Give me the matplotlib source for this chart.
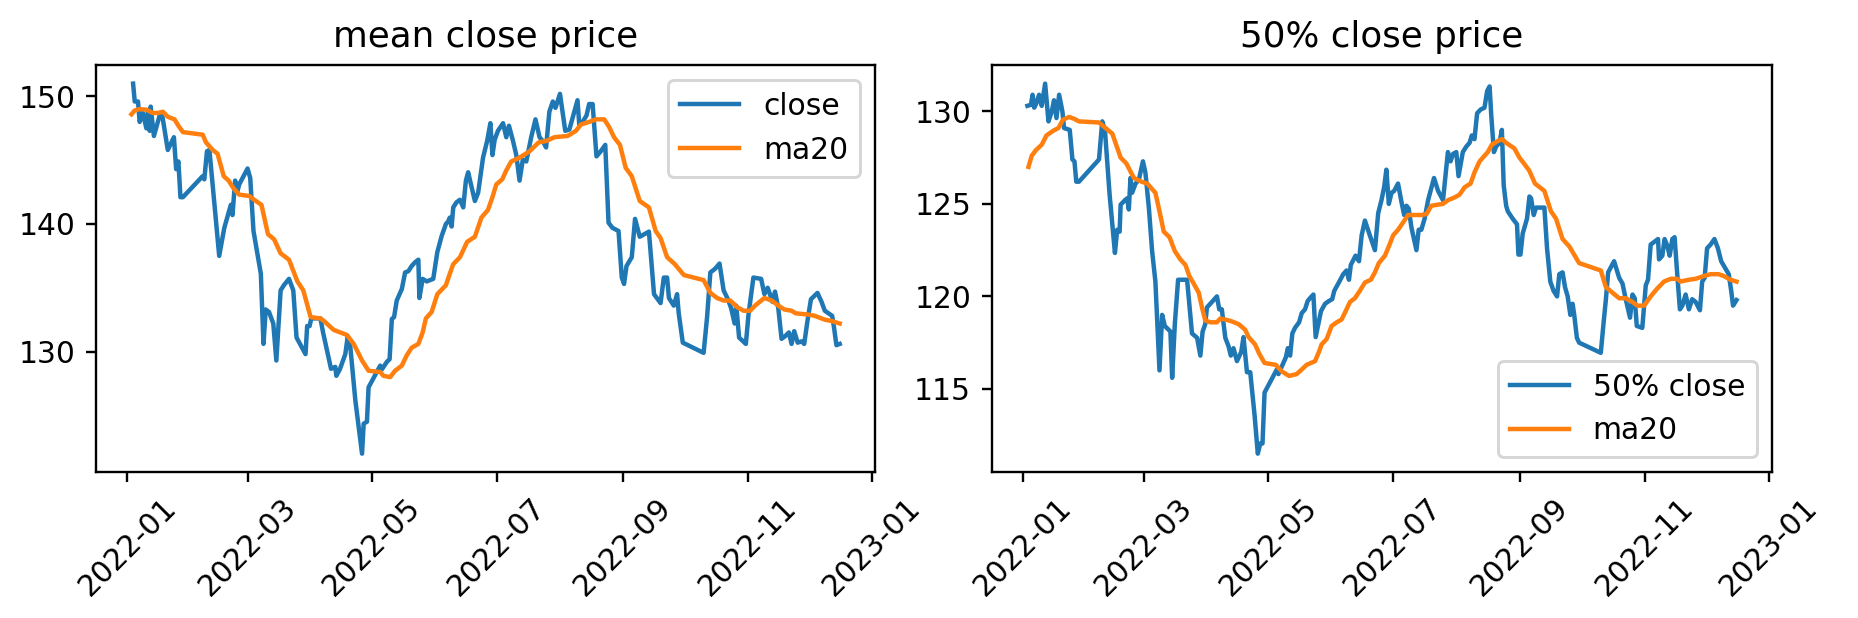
import numpy as np
import pandas as pd
import matplotlib
matplotlib.use("Agg")
import matplotlib.pyplot as plt

# (day of 2022, value)
mean_close = [
    (2.8, 151.0), (3.6, 149.6), (5.2, 149.6), (6.0, 148.0), (7.6, 148.7), (9.3, 147.5),
    (10.1, 148.9), (10.9, 147.3), (11.4, 149.2), (13.0, 146.9), (15.8, 148.5), (16.9, 148.7),
    (19.8, 145.8), (22.8, 146.8), (23.9, 144.3), (25.0, 144.9), (26.0, 142.1), (27.2, 142.1),
    (36.9, 143.75), (37.7, 143.5), (39.0, 145.7), (40.2, 145.8), (45.0, 137.5), (47.5, 139.7),
    (50.7, 141.5), (51.5, 140.7), (52.8, 143.4), (54.0, 142.6), (54.8, 143.1), (58.9, 144.35),
    (60.2, 143.6), (61.8, 139.45), (65.4, 136.1), (66.7, 130.6), (67.8, 133.3), (69.4, 133.1),
    (71.5, 132.2), (73.0, 129.3), (75.1, 134.8), (76.7, 135.2), (79.2, 135.7), (81.3, 134.8),
    (82.9, 131.1), (87.3, 129.8), (88.1, 132.0), (89.3, 132.0), (90.1, 132.6), (94.6, 132.6),
    (95.9, 131.5), (99.8, 128.65), (101.9, 128.8), (102.4, 128.1), (104.1, 128.6), (106.8, 129.8),
    (108.0, 131.2), (109.3, 130.3), (111.7, 126.2), (115.0, 122.0), (115.8, 124.35), (117.4, 124.5),
    (118.2, 127.2), (123.9, 128.9), (124.7, 128.6), (127.2, 129.2), (128.5, 129.4), (129.6, 132.55),
    (130.7, 132.7), (132.0, 134.0), (134.5, 134.9), (136.1, 136.2), (137.7, 136.3), (139.3, 136.7),
    (141.0, 137.0), (142.6, 137.2), (143.1, 134.2), (144.7, 135.7), (146.7, 135.5), (149.9, 135.7),
    (151.9, 137.8), (154.0, 139.05), (156.1, 140.0), (157.2, 140.2), (158.0, 140.5), (158.9, 139.8),
    (159.7, 141.3), (161.3, 141.7), (163.0, 141.9), (164.6, 141.3), (165.9, 143.4), (167.0, 144.05),
    (170.3, 141.8), (171.9, 142.45), (174.3, 145.2), (176.3, 146.5), (177.9, 147.9), (178.9, 145.4),
    (180.0, 146.6), (181.6, 147.3), (184.1, 147.9), (185.7, 146.8), (187.0, 147.7), (189.0, 146.5),
    (190.6, 145.4), (192.2, 143.4), (193.8, 145.05), (195.5, 144.9), (197.9, 146.8), (200.0, 148.2),
    (202.0, 146.8), (203.6, 146.5), (205.2, 146.0), (206.8, 148.8), (208.5, 149.6), (209.8, 149.1),
    (212.0, 150.2), (214.6, 147.3), (216.6, 147.4), (220.6, 149.7), (221.5, 147.7), (223.1, 148.0),
    (225.0, 148.5), (226.3, 149.4), (228.0, 149.4), (229.9, 145.3), (232.0, 145.7), (234.2, 146.2),
    (235.8, 140.1), (237.7, 139.7), (240.7, 139.45), (242.3, 135.8), (243.4, 135.3), (244.6, 136.7),
    (247.2, 137.4), (248.8, 140.4), (251.1, 139.0), (255.6, 139.4), (258.1, 134.5), (261.3, 133.8),
    (262.9, 135.8), (264.5, 135.8), (265.4, 134.2), (267.8, 133.6), (269.4, 134.5), (270.2, 133.0),
    (272.2, 130.7), (282.4, 129.9), (284.1, 132.7), (285.7, 136.2), (288.1, 136.5), (290.2, 136.9),
    (292.2, 134.8), (294.3, 134.1), (295.9, 133.4), (297.6, 132.2), (298.4, 133.6), (299.8, 131.1),
    (303.1, 130.6), (304.4, 132.9), (306.8, 135.8), (310.6, 135.7), (312.2, 134.5), (313.8, 135.0),
    (314.9, 134.5), (316.1, 133.9), (317.4, 134.7), (319.0, 133.4), (320.6, 131.0), (322.3, 131.2),
    (324.2, 131.5), (325.5, 130.6), (326.8, 131.6), (328.5, 130.7), (330.4, 130.8), (331.7, 130.6),
    (333.3, 132.4), (335.0, 134.1), (338.2, 134.6), (340.2, 133.9), (341.8, 133.2), (345.4, 132.8),
    (346.3, 131.9), (347.5, 130.5), (349.1, 130.6),
]

mean_ma20 = [
    (2.0, 148.6), (3.6, 148.9), (6.0, 149.0), (9.3, 148.96), (12.5, 148.7), (15.0, 148.7),
    (17.4, 148.8), (19.8, 148.4), (23.1, 148.2), (25.0, 147.7), (27.2, 147.2), (36.9, 147.0),
    (38.5, 146.4), (41.8, 145.8), (44.2, 145.5), (47.2, 143.75), (49.6, 143.4), (52.0, 142.8),
    (54.8, 142.3), (59.7, 142.2), (62.1, 141.9), (65.7, 141.5), (68.9, 139.2), (71.9, 138.8),
    (75.1, 137.7), (79.2, 137.2), (83.3, 135.5), (86.2, 134.8), (89.8, 132.7), (94.6, 132.6),
    (96.3, 132.4), (101.1, 131.7), (107.6, 131.3), (110.9, 130.6), (112.5, 130.1), (115.0, 129.3),
    (118.2, 128.5), (123.9, 128.4), (125.5, 128.1), (128.8, 128.0), (131.2, 128.5), (134.5, 128.9),
    (136.9, 129.7), (139.3, 130.3), (142.6, 130.6), (144.7, 131.5), (146.3, 132.6), (149.1, 133.1),
    (151.9, 134.5), (156.1, 135.2), (158.0, 136.1), (159.7, 136.85), (163.0, 137.4), (166.5, 138.6),
    (170.3, 139.0), (173.5, 140.5), (176.7, 141.1), (178.9, 142.1), (180.8, 143.1), (183.7, 143.5),
    (185.7, 144.2), (188.1, 144.9), (192.2, 145.2), (197.1, 145.7), (201.6, 146.4), (205.2, 146.5),
    (209.3, 146.8), (215.8, 146.9), (219.8, 147.3), (222.3, 147.8), (226.3, 148.0), (229.6, 148.2),
    (233.7, 148.2), (236.1, 147.6), (238.5, 146.8), (241.4, 146.2), (244.2, 144.4), (247.2, 143.75),
    (251.1, 141.8), (255.6, 141.3), (258.9, 139.45), (261.3, 138.9), (264.5, 137.4), (268.3, 136.85),
    (272.7, 136.0), (282.4, 135.6), (285.7, 134.6), (289.0, 134.2), (292.2, 134.0), (295.5, 134.0),
    (298.7, 133.5), (302.0, 133.2), (305.2, 133.2), (307.6, 133.6), (312.2, 134.2), (315.8, 134.0),
    (319.0, 133.6), (322.0, 133.3), (325.5, 133.2), (327.5, 133.0), (333.7, 132.9), (336.9, 132.8),
    (341.8, 132.5), (345.0, 132.4), (349.1, 132.2),
]

median_close = [
    (2.1, 130.3), (3.8, 130.36), (4.6, 130.9), (5.4, 130.2), (6.5, 130.45), (7.8, 130.9),
    (9.1, 130.3), (10.75, 131.5), (12.4, 129.46), (14.0, 130.0), (15.1, 130.6), (16.3, 129.64),
    (17.6, 130.9), (19.2, 130.0), (20.0, 129.1), (22.8, 129.0), (24.1, 127.4), (25.1, 127.3),
    (26.0, 126.2), (27.3, 126.2), (37.1, 127.4), (38.7, 129.46), (40.0, 129.0), (42.3, 125.5),
    (44.9, 122.35), (46.0, 123.6), (47.2, 123.5), (47.7, 124.96), (49.8, 125.2), (50.9, 125.3),
    (51.7, 124.7), (52.5, 126.4), (53.3, 125.6), (55.0, 126.1), (56.6, 126.3), (58.6, 127.3),
    (59.8, 126.7), (61.5, 124.8), (63.1, 122.44), (64.7, 120.8), (66.7, 116.0), (68.0, 119.0),
    (69.3, 118.4), (72.05, 118.1), (72.9, 115.6), (74.2, 118.5), (75.8, 120.9), (80.2, 120.9),
    (82.6, 118.0), (85.1, 117.76), (86.7, 116.8), (87.8, 118.1), (89.1, 118.5), (89.9, 119.4),
    (94.8, 120.0), (95.95, 119.3), (97.2, 119.3), (98.9, 117.76), (100.5, 117.3), (101.6, 116.8),
    (102.9, 117.2), (104.6, 116.5), (106.7, 117.0), (107.8, 117.8), (109.5, 115.9), (111.1, 115.9),
    (113.2, 113.6), (114.8, 111.5), (116.0, 112.05), (117.1, 112.05), (118.1, 114.8), (124.1, 116.05),
    (124.9, 115.8), (126.5, 116.2), (128.5, 116.7), (129.5, 117.2), (130.6, 116.8), (131.7, 118.0),
    (133.0, 118.3), (135.0, 118.6), (136.3, 119.1), (137.9, 119.3), (139.2, 119.75), (140.3, 119.9),
    (142.0, 120.1), (143.1, 117.8), (144.4, 118.5), (145.7, 119.2), (147.7, 119.6), (149.6, 119.75),
    (151.2, 119.85), (152.2, 120.3), (154.2, 120.7), (156.6, 121.2), (158.2, 121.4), (159.4, 120.9),
    (160.3, 121.7), (162.6, 122.2), (164.3, 121.9), (165.6, 123.3), (167.2, 124.1), (169.6, 123.3),
    (172.1, 122.5), (173.7, 124.5), (175.3, 125.2), (176.6, 125.9), (177.7, 126.85), (178.9, 125.0),
    (180.2, 125.6), (181.5, 125.7), (183.4, 126.1), (185.1, 125.1), (186.4, 124.4), (187.5, 124.9),
    (188.6, 124.75), (190.0, 123.7), (190.8, 123.3), (192.4, 122.5), (193.5, 123.6), (194.8, 123.6),
    (196.4, 124.2), (198.1, 125.2), (201.0, 126.4), (203.0, 125.7), (205.4, 125.2), (207.8, 127.8),
    (209.1, 127.3), (210.3, 127.7), (211.9, 127.8), (213.0, 126.5), (215.1, 127.8), (216.8, 128.1),
    (218.4, 128.3), (219.5, 128.7), (220.8, 128.5), (222.1, 129.9), (223.8, 130.1), (225.7, 130.2),
    (227.0, 131.1), (228.2, 131.35), (229.0, 129.8), (230.3, 127.8), (231.4, 128.1), (233.0, 128.3),
    (234.2, 129.0), (235.1, 126.0), (236.3, 124.9), (237.1, 124.6), (239.5, 124.2), (241.6, 123.9),
    (242.3, 122.26), (243.3, 122.26), (244.4, 123.4), (246.5, 124.2), (247.7, 125.4), (248.5, 125.3),
    (249.8, 124.4), (250.9, 124.8), (255.0, 124.8), (256.3, 122.6), (257.9, 120.8), (259.5, 120.3),
    (261.2, 120.0), (262.3, 121.2), (263.9, 121.3), (265.1, 120.5), (266.4, 120.0), (267.7, 119.0),
    (268.8, 119.6), (269.6, 119.0), (270.9, 117.76), (272.0, 117.5), (282.6, 116.95), (283.9, 118.5),
    (285.1, 119.85), (286.2, 121.3), (289.1, 121.9), (291.6, 121.0), (293.2, 120.7), (294.8, 119.85),
    (296.9, 118.85), (298.1, 120.1), (299.2, 119.9), (300.2, 118.4), (302.9, 118.3), (304.6, 120.6),
    (305.7, 120.9), (307.0, 122.8), (309.4, 123.0), (310.6, 123.1), (311.1, 122.0), (312.7, 122.2),
    (313.8, 123.1), (315.1, 122.75), (316.3, 122.2), (317.6, 123.1), (318.7, 123.2), (320.0, 121.2),
    (321.3, 119.3), (322.5, 119.5), (324.1, 120.1), (325.7, 119.3), (327.3, 119.85), (329.0, 119.7),
    (331.1, 119.25), (332.2, 120.8), (333.4, 121.0), (334.6, 122.6), (336.3, 122.8), (338.2, 123.1),
    (339.9, 122.6), (341.5, 121.9), (343.6, 121.5), (345.2, 121.2), (346.4, 120.3), (347.3, 119.5),
    (349.0, 119.8),
]

median_ma20 = [
    (2.6, 127.0), (4.2, 127.6), (6.2, 127.9), (9.1, 128.2), (11.4, 128.7), (14.65, 128.95),
    (17.25, 129.1), (19.5, 129.55), (22.45, 129.7), (24.9, 129.6), (27.3, 129.46), (37.1, 129.4),
    (40.3, 129.1), (43.6, 128.8), (45.5, 128.2), (47.7, 127.5), (50.4, 127.2), (52.05, 126.85),
    (54.2, 126.4), (57.9, 126.2), (60.7, 126.1), (64.7, 125.6), (66.7, 124.6), (68.8, 123.5),
    (71.6, 123.2), (74.2, 122.45), (76.9, 122.0), (79.4, 121.7), (81.3, 121.1), (83.9, 120.6),
    (85.9, 120.2), (87.5, 119.4), (89.1, 118.7), (91.6, 118.6), (94.8, 118.6), (96.4, 118.8),
    (98.9, 118.75), (102.1, 118.65), (105.4, 118.5), (108.6, 118.2), (110.3, 117.8), (113.5, 117.4),
    (115.5, 116.9), (118.1, 116.4), (123.6, 116.3), (126.5, 115.95), (130.1, 115.7), (133.8, 115.8),
    (136.3, 116.05), (138.7, 116.3), (142.8, 116.5), (144.7, 117.0), (146.0, 117.4), (148.5, 117.7),
    (150.9, 118.4), (153.4, 118.6), (155.8, 118.75), (158.2, 119.3), (159.9, 119.7), (162.3, 119.9),
    (164.7, 120.3), (167.2, 120.75), (170.1, 120.9), (172.1, 121.3), (174.0, 121.8), (177.0, 122.2),
    (178.9, 122.7), (181.0, 123.3), (183.4, 123.6), (185.9, 124.0), (188.3, 124.4), (190.8, 124.4),
    (194.8, 124.4), (197.3, 124.45), (199.7, 124.9), (203.0, 124.96), (205.4, 125.0), (207.8, 125.2),
    (211.1, 125.35), (213.5, 125.5), (216.0, 125.9), (218.9, 126.1), (220.8, 126.7), (223.3, 127.3),
    (225.7, 127.6), (227.3, 127.8), (229.3, 128.2), (232.2, 128.4), (234.3, 128.5), (236.3, 128.3),
    (240.3, 128.0), (242.8, 127.5), (244.9, 127.2), (247.6, 126.8), (250.4, 126.1), (255.0, 125.7),
    (258.2, 124.6), (260.7, 124.2), (263.9, 123.1), (267.2, 122.7), (272.0, 121.8), (282.6, 121.4),
    (285.1, 120.5), (288.3, 120.2), (291.6, 119.9), (294.8, 119.9), (298.1, 119.7), (300.5, 119.5),
    (303.8, 119.5), (307.0, 120.0), (310.0, 120.4), (313.5, 120.8), (316.8, 120.95), (320.0, 120.95),
    (321.6, 120.8), (325.7, 120.9), (329.0, 120.95), (333.0, 121.1), (336.3, 121.2), (340.3, 121.2),
    (342.8, 121.1), (346.0, 120.9), (349.0, 120.8),
]

titles = ["mean close price", "50% close price"]
labels = [["close", "ma20"], ["50% close", "ma20"]]
legend_loc = ["upper right", "lower right"]


def to_series(pairs):
    arr = np.array(pairs)
    dates = pd.Timestamp("2022-01-01") + pd.to_timedelta(arr[:, 0], unit="D")
    return dates, arr[:, 1]


DPI = 214
fig = plt.figure(figsize=(1858 / DPI, 618 / DPI), dpi=DPI)
ax1 = fig.add_axes([0.0517, 0.236, 0.4193, 0.6586])
ax2 = fig.add_axes([0.5339, 0.236, 0.4198, 0.6586])

for ax, (close, ma), title, lab, loc in zip(
        [ax1, ax2], [(mean_close, mean_ma20), (median_close, median_ma20)],
        titles, labels, legend_loc):
    d, v = to_series(close)
    ax.plot(d, v, label=lab[0])
    d, v = to_series(ma)
    ax.plot(d, v, label=lab[1])
    ax.set_title(title)
    ax.legend(loc=loc)
    ax.tick_params(axis="x", labelrotation=45)

fig.savefig("out.png", dpi=DPI)
